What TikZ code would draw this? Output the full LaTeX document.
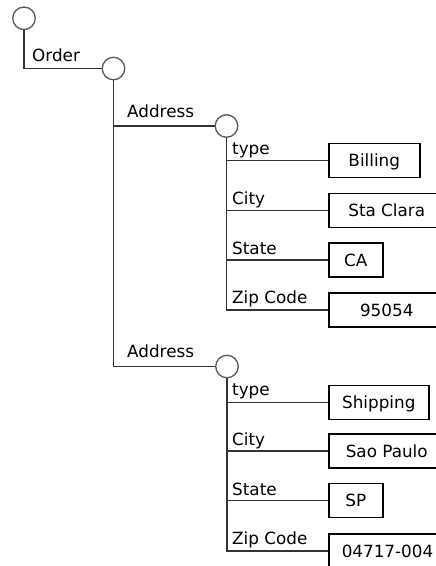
\documentclass[tikz,border=0pt]{standalone}
\usepackage{fontspec}
\setmainfont{DejaVu Sans}
\begin{document}
\begin{tikzpicture}[x=1pt,y=-1pt,
  conn/.style={draw=black!80,line width=1.5pt},
  elem/.style={circle,draw=black!65,line width=1.3pt,fill=white,inner sep=0pt,minimum size=22.5pt},
  lbl/.style={anchor=base west,inner sep=0pt,font=\fontsize{16.8}{19}\selectfont},
  valbox/.style={rectangle,draw=black,line width=1.5pt,anchor=west,minimum height=34pt,
    text height=12pt,text depth=0pt,inner sep=0pt,font=\fontsize{16.8}{19}\selectfont},
]
\useasboundingbox (0,0) rectangle (436,566);
\clip (0,0) rectangle (436,566);
\fill[white] (0,0) rectangle (436,566);

% element circles
\node[elem] (root) at (24,18.3) {};
\node[elem] (order) at (113.5,68.5) {};
\node[elem] (addr1) at (226.5,126) {};
\node[elem] (addr2) at (227,366.5) {};

% value boxes, first address
\node[valbox,minimum width=91pt] (billing) at (328,160.5) {Billing};
\node[valbox,minimum width=116pt] (city1) at (328,210.5) {Sta Clara};
\node[valbox,minimum width=54pt] (state1) at (328,260) {CA};
\node[valbox,minimum width=116pt] (zip1) at (328,310) {95054};

% value boxes, second address
\node[valbox,minimum width=100pt] (shipping) at (328,402.5) {Shipping};
\node[valbox,minimum width=116pt] (city2) at (328,451) {Sao Paulo};
\node[valbox,minimum width=54pt] (state2) at (328,500.5) {SP};
\node[valbox,minimum width=116pt,text width=100pt,align=left] (zip2) at (328,551) {\hspace*{5pt}04717-004};

% connectors
\draw[conn] (root.south) |- (order.west);
\draw[conn] (order.south) |- (addr1.west);
\draw[conn] (order.south) |- (addr2.west);
\foreach \b in {billing,city1,state1,zip1}
  \draw[conn] (addr1.south) |- (\b.west);
\foreach \b in {shipping,city2,state2,zip2}
  \draw[conn] (addr2.south) |- (\b.west);

% labels
\node[lbl] (lorder) at (32,61.5) {Order};
\node[lbl] (laddr1) at (127,117) {Address};
\node[lbl] (laddr2) at (127,357) {Address};
\node[lbl] (lt1) at (232,154) {type};
\node[lbl] (lc1) at (232,204) {City};
\node[lbl] (ls1) at (232,254) {State};
\node[lbl] (lz1) at (232,303) {Zip Code};
\node[lbl] (lt2) at (232,395) {type};
\node[lbl] (lc2) at (232,445) {City};
\node[lbl] (ls2) at (232,495) {State};
\node[lbl] (lz2) at (232,544) {Zip Code};
\end{tikzpicture}
\end{document}
